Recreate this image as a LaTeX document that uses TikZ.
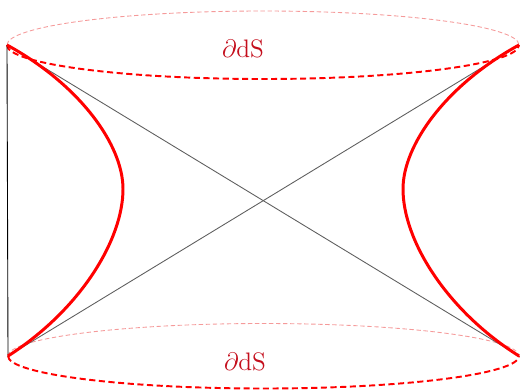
\documentclass[tikz,border=0pt]{standalone}
\usepackage{amsmath,amssymb}
\usepackage{xcolor}
\usepackage{tikz}
\usetikzlibrary{calc}
\definecolor{HypRed}{HTML}{FF0000}
\definecolor{BackPink}{HTML}{F59A9A}
\definecolor{LabelRed}{HTML}{C40E1C}
\definecolor{DiagGray}{HTML}{5E5E5E}

\begin{document}
\begin{tikzpicture}[x=0.02cm,y=-0.02cm,
  back/.style={BackPink,line width=.5pt,dash pattern=on 2.5pt off 1.5pt},
  front/.style={HypRed,line width=1.1pt,dash pattern=on 3.5pt off 2pt},
  hyp/.style={HypRed,line width=1.7pt},
  diag/.style={DiagGray,line width=.5pt},
  dslabel/.style={LabelRed,font=\Large}]
\useasboundingbox (0,0) rectangle (520,389);
\coordinate (tl) at (7,45);
\coordinate (tr) at (519,45);
\coordinate (bl) at (8,356);
\coordinate (br) at (519,356);
% boundary circles
\draw[back] (tl) arc[start angle=180,end angle=360,x radius=256,y radius=34];
\draw[front] (tl) arc[start angle=180,end angle=0,x radius=256,y radius=34];
\draw[back] (bl) arc[start angle=180,end angle=360,x radius=255.5,y radius=32.5];
\draw[front] (bl) arc[start angle=180,end angle=0,x radius=255.5,y radius=32.5];
% Penrose square
\draw[black,line width=.5pt] (tl) -- (bl);
\draw[diag] (tl) -- (br);
\draw[diag] (bl) -- (tr);
% hyperbolae
\draw[hyp] (tl) .. controls (80,85) and (123,145) .. (123,189) .. controls (123,240) and (80,310) .. (bl);
\draw[hyp] (tr) .. controls (446,85) and (403,145) .. (403,189) .. controls (403,240) and (446,310) .. (br);
\node[dslabel] (dstop) at (243,49) {$\partial$dS};
\node[dslabel] (dsbot) at (245,362) {$\partial$dS};
\end{tikzpicture}
\end{document}
